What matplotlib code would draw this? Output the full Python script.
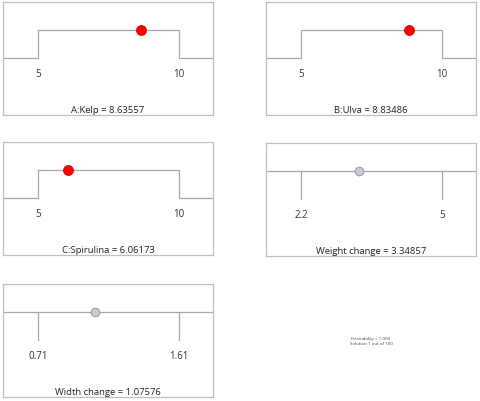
import matplotlib
matplotlib.use("Agg")
import matplotlib.pyplot as plt

plt.rcParams['font.family'] = ['Open Sans', 'DejaVu Sans']

# factor ranges and optimum values
names = ["A:Kelp", "B:Ulva", "C:Spirulina", "Weight change", "Width change"]
lows = [5, 5, 5, 2.2, 0.71]
highs = [10, 10, 10, 5, 1.61]
low_labels = ["5", "5", "5", "2.2", "0.71"]
high_labels = ["10", "10", "10", "5", "1.61"]
values = [8.63557, 8.83486, 6.06173, 3.34857, 1.07576]
is_factor = [True, True, True, False, False]

desirability = 1.000
solution = 1
n_solutions = 100

W, H = 480, 402
fig = plt.figure(figsize=(W / 100, H / 100), dpi=100)

# panel boxes in pixels: (left, top)
boxes = [(3, 3), (266, 3), (3, 143), (266, 144), (3, 285)]
bw, bh = 210, 113

frame_col = "#c0c0c0"
line_col = "#a8a8a8"

for i in range(5):
    left, top = boxes[i]
    ax = fig.add_axes([left / W, 1 - (top + bh) / H, bw / W, bh / H])
    lo, hi = lows[i], highs[i]
    span = hi - lo
    # the step positions sit at ~16.6% and ~83.4% of the box width
    xmin = lo - span * 35 / 141
    xmax = hi + span * 34 / 141
    ax.set_xlim(xmin, xmax)
    ax.set_ylim(0, 1)
    y_low, y_high = 0.504, 0.752
    if is_factor[i]:
        ax.plot([xmin, lo, lo, hi, hi, xmax],
                [y_low, y_low, y_high, y_high, y_low, y_low],
                color=line_col, lw=0.9)
        ax.plot(values[i], y_high, "o", ms=6.8, color="#ff0000",
                mec="#ee0000", zorder=5)
    else:
        ax.plot([xmin, xmax], [y_high, y_high], color=line_col, lw=0.9)
        ax.plot([lo, lo], [y_low, y_high], color=line_col, lw=0.9)
        ax.plot([hi, hi], [y_low, y_high], color=line_col, lw=0.9)
        ax.plot(values[i], y_high, "o", ms=6.2, color="#c8ccd6",
                mec="#9a9ea8", mew=0.8, zorder=5)
    ax.text(lo, 0.37, low_labels[i], ha="center", va="center",
            fontsize=7, color="#333333")
    ax.text(hi, 0.37, high_labels[i], ha="center", va="center",
            fontsize=7, color="#333333")
    ax.text(0.5, 0.028, "%s = %.5f" % (names[i], values[i]),
            transform=ax.transAxes, ha="center", va="baseline",
            fontsize=6.8, color="#222222")
    ax.set_xticks([])
    ax.set_yticks([])
    for s in ax.spines.values():
        s.set_color(frame_col)
        s.set_linewidth(0.9)

fig.text(371 / W, 1 - 339 / H, "Desirability = %.3f" % desirability,
         ha="center", va="center", fontsize=3.2, color="#444444")
fig.text(371 / W, 1 - 344.5 / H, "Solution %d out of %d" % (solution, n_solutions),
         ha="center", va="center", fontsize=3.2, color="#444444")

fig.savefig("out.png", dpi=100)
